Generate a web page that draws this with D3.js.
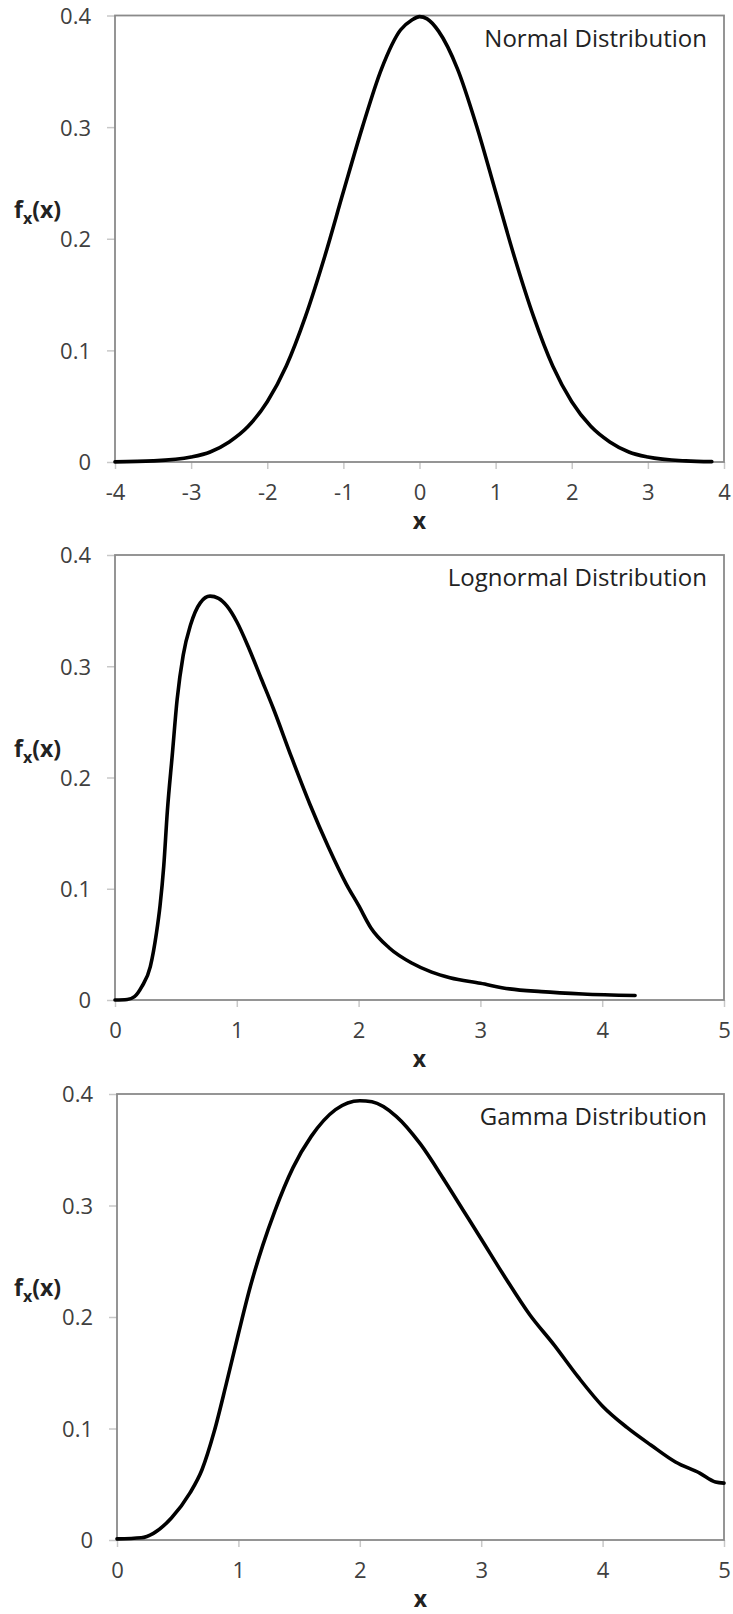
<!DOCTYPE html>
<html>
<head>
<meta charset="utf-8">
<script src="https://cdn.jsdelivr.net/npm/d3@7"></script>
<style>
  html, body { margin: 0; padding: 0; background: #fff; }
  svg { display: block; }
  .tick text { font-family: "Open Sans", "Noto Sans", sans-serif; font-size: 22px; fill: #404040; }
</style>
</head>
<body>
<svg id="chart" width="733" height="1614"></svg>
<script>
// Normal density samples (x, f(x))
const normalX = [-4.0, -3.5, -3.0, -2.75, -2.5, -2.25, -2.0, -1.75, -1.5, -1.25, -1.0, -0.75, -0.5, -0.25, -0.1, 0.0, 0.1, 0.25, 0.5, 0.75, 1.0, 1.25, 1.5, 1.75, 2.0, 2.25, 2.5, 2.75, 3.0, 3.5, 3.84];
const normalY = [0.0001, 0.001, 0.0045, 0.009, 0.018, 0.032, 0.054, 0.086, 0.13, 0.183, 0.242, 0.30, 0.352, 0.387, 0.396, 0.399, 0.397, 0.386, 0.352, 0.301, 0.242, 0.183, 0.13, 0.086, 0.054, 0.032, 0.018, 0.009, 0.0045, 0.001, 0.0003];

// Lognormal density samples
const lognormalX = [0, 0.1, 0.16, 0.22, 0.29, 0.34, 0.37, 0.40, 0.43, 0.47, 0.51, 0.56, 0.62, 0.70, 0.78, 0.85, 0.92, 1.0, 1.1, 1.2, 1.3, 1.45, 1.6, 1.75, 1.9, 2.0, 2.1, 2.25, 2.44, 2.60, 2.75, 3.0, 3.24, 3.5, 3.84, 4.27];
const lognormalY = [0, 0.0005, 0.003, 0.012, 0.03, 0.06, 0.085, 0.12, 0.17, 0.22, 0.27, 0.31, 0.337, 0.357, 0.363, 0.361, 0.354, 0.340, 0.316, 0.289, 0.262, 0.218, 0.176, 0.138, 0.104, 0.085, 0.065, 0.047, 0.033, 0.025, 0.02, 0.015, 0.010, 0.0075, 0.0054, 0.004];

// Gamma density samples
const gammaX = [0, 0.2, 0.3, 0.45, 0.6, 0.7, 0.8, 0.9, 1.0, 1.1, 1.2, 1.3, 1.45, 1.6, 1.8, 2.0, 2.1, 2.3, 2.5, 2.7, 2.85, 3.0, 3.2, 3.4, 3.6, 3.8, 4.0, 4.2, 4.4, 4.6, 4.8, 4.93, 5.0];
const gammaY = [0.001, 0.002, 0.006, 0.02, 0.042, 0.063, 0.097, 0.14, 0.185, 0.228, 0.264, 0.295, 0.334, 0.362, 0.386, 0.394, 0.393, 0.38, 0.355, 0.322, 0.296, 0.27, 0.235, 0.202, 0.175, 0.146, 0.12, 0.101, 0.085, 0.07, 0.06, 0.052, 0.051];

// Axis ticks
const yTicks = [0, 0.1, 0.2, 0.3, 0.4];
const normalTicks = [-4, -3, -2, -1, 0, 1, 2, 3, 4];
const positiveTicks = [0, 1, 2, 3, 4, 5];

const panels = [
  { title: "Normal Distribution", xs: normalX, ys: normalY, domain: [-4, 4], ticks: normalTicks,
    left: 115, right: 724, top: 15.5, bottom: 462 },
  { title: "Lognormal Distribution", xs: lognormalX, ys: lognormalY, domain: [0, 5], ticks: positiveTicks,
    left: 115, right: 724, top: 555, bottom: 1000 },
  { title: "Gamma Distribution", xs: gammaX, ys: gammaY, domain: [0, 5], ticks: positiveTicks,
    left: 117, right: 724, top: 1094, bottom: 1540 }
];

const svg = d3.select("#chart");

panels.forEach(p => {
  const x = d3.scaleLinear().domain(p.domain).range([p.left, p.right]);
  const y = d3.scaleLinear().domain([0, 0.4]).range([p.bottom, p.top]);
  const g = svg.append("g");

  // y axis ticks and labels
  const yAxis = g.append("g")
    .attr("transform", `translate(${p.left},0)`)
    .call(d3.axisLeft(y).tickValues(yTicks).tickSize(8).tickPadding(16)
      .tickFormat(d => d === 0 ? "0" : d3.format(".1f")(d)));
  yAxis.select(".domain").remove();
  yAxis.selectAll(".tick line").attr("stroke", "#c8c8c8").attr("stroke-width", 1.5);
  yAxis.selectAll(".tick text").attr("dy", "0.36em");

  // x axis ticks and labels (plain hyphen for negatives)
  const xAxis = g.append("g")
    .attr("transform", `translate(0,${p.bottom})`)
    .call(d3.axisBottom(x).tickValues(p.ticks).tickSize(7).tickPadding(15).tickFormat(d => String(d)));
  xAxis.select(".domain").remove();
  xAxis.selectAll(".tick line").attr("stroke", "#c8c8c8").attr("stroke-width", 1.5);

  // plot frame
  g.append("rect")
    .attr("x", p.left).attr("y", p.top)
    .attr("width", p.right - p.left).attr("height", p.bottom - p.top)
    .attr("fill", "none").attr("stroke", "#8a8a8a").attr("stroke-width", 1.8);

  // density curve
  const pts = p.xs.map((v, i) => [v, p.ys[i]]);
  g.append("path")
    .datum(pts)
    .attr("fill", "none")
    .attr("stroke", "#000")
    .attr("stroke-width", 3.6)
    .attr("stroke-linejoin", "round")
    .attr("stroke-linecap", "round")
    .attr("d", d3.line().x(d => x(d[0])).y(d => y(d[1])).curve(d3.curveMonotoneX));

  // panel title
  g.append("text")
    .attr("x", 707).attr("y", p.top + 31)
    .attr("text-anchor", "end")
    .attr("font-family", "'Open Sans', 'Noto Sans', sans-serif")
    .attr("font-size", 24)
    .attr("fill", "#222")
    .text(p.title);

  // x axis title
  g.append("text")
    .attr("x", (p.left + p.right) / 2).attr("y", p.bottom + 67)
    .attr("text-anchor", "middle")
    .attr("font-family", "'Open Sans', 'Noto Sans', sans-serif")
    .attr("font-size", 23).attr("font-weight", "bold")
    .attr("fill", "#222")
    .text("x");

  // y axis title f_x(x)
  const yt = g.append("text")
    .attr("x", 14).attr("y", p.top + 202)
    .attr("font-family", "'Open Sans', 'Noto Sans', sans-serif")
    .attr("font-size", 23).attr("font-weight", "bold")
    .attr("fill", "#222");
  yt.append("tspan").text("f");
  yt.append("tspan").attr("font-size", 16).attr("dy", 6).text("x");
  yt.append("tspan").attr("dy", -6).text("(x)");
});
</script>
</body>
</html>
